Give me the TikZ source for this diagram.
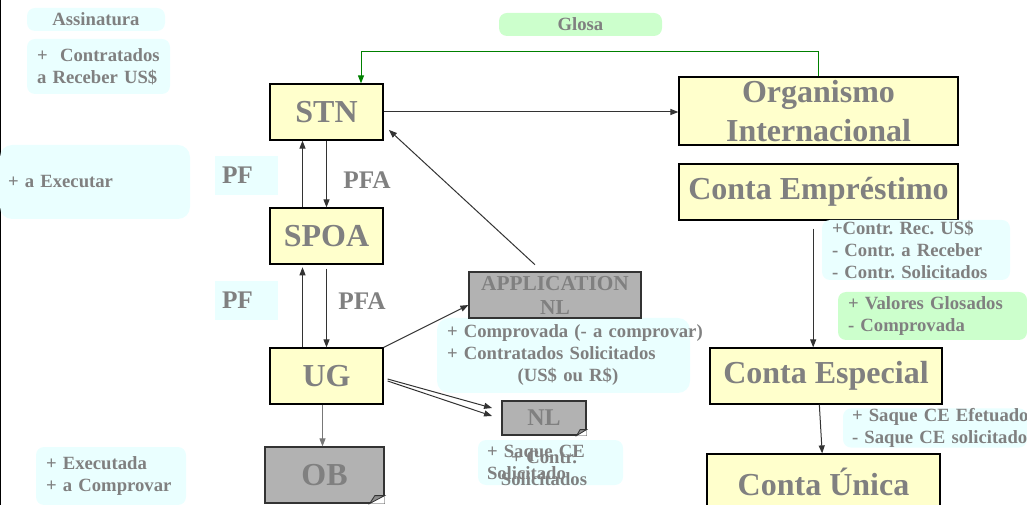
\documentclass[tikz,border=0pt]{standalone}
\usepackage{fontspec}
\setmainfont{Liberation Serif}
\usetikzlibrary{arrows.meta}

\definecolor{boxyellow}{RGB}{255,255,204}
\definecolor{boxgray}{RGB}{178,178,178}
\definecolor{foldgray}{RGB}{140,140,140}
\definecolor{notecyan}{RGB}{234,255,255}
\definecolor{notegreen}{RGB}{204,255,204}
\definecolor{txtgray}{RGB}{128,128,128}
\definecolor{darkline}{RGB}{51,51,51}
\definecolor{linegray}{RGB}{120,120,120}
\definecolor{glosagreen}{RGB}{0,128,0}

\newcommand{\fontbig}{\fontsize{24}{29}\selectfont\bfseries}
\newcommand{\fontmid}{\fontsize{19}{22}\selectfont\bfseries}
\newcommand{\fontapp}{\fontsize{16}{18}\selectfont\bfseries}
\newcommand{\fontsml}{\fontsize{14}{16.5}\selectfont\bfseries\frenchspacing}

% folded corner: node, width, height
\newcommand{\dogear}[3]{%
  \fill[white] ([shift={(-#2,0)}]#1.south east) -- (#1.south east) -- ([shift={(0,-#3)}]#1.south east) -- cycle;
  \filldraw[fill=foldgray,draw=darkline,line width=0.6pt] ([shift={(-#2,0)}]#1.south east) -- ([shift={(-0.65*#2,-#3)}]#1.south east) -- ([shift={(0,-#3)}]#1.south east) -- cycle;
}

\tikzset{
  blk/.style={draw=black,line width=0.9pt,fill=boxyellow,text=txtgray,font=\fontbig,align=center,inner sep=0pt,minimum height=42pt},
  doc/.style={blk,fill=boxgray,draw=darkline},
  note/.style={fill=notecyan,rounded corners=6pt,text=txtgray,font=\fontsml,align=left,inner ysep=0pt},
  conn/.style={->,draw=darkline,line width=0.75pt}
}

\begin{document}
\begin{tikzpicture}[x=0.75pt,y=-0.75pt,>={Triangle[length=6pt,width=4.5pt]}]
\useasboundingbox (0,0) rectangle (1027,505);
\draw[line width=1.5pt] (0,0) -- (0,505);

\node[note,minimum width=103.5pt,minimum height=17.25pt,align=center] (assin) at (96,19.5) {Assinatura};
\node[note,text width=92.25pt,inner xsep=7.5pt,minimum height=41.25pt] (contr) at (98.5,66.5) {+~ Contratados\\a Receber US\$};
\node[note,text width=130.5pt,inner xsep=6pt,minimum height=55.5pt,rounded corners=9pt] (exec) at (95,182) {+ a Executar};
\node[note,rounded corners=0pt,font=\fontmid,text width=36.75pt,inner xsep=5.25pt,minimum height=29.25pt] (pf1) at (246.5,175.5) {PF};
\node[note,rounded corners=0pt,font=\fontmid,text width=36.75pt,inner xsep=5.25pt,minimum height=29.25pt] (pf2) at (246.5,300.5) {PF};
\node[note,fill=notegreen,minimum width=122.25pt,minimum height=17.25pt,align=center] (glosa) at (580.5,24.5) {Glosa};

\node[blk,minimum width=84.75pt] (stn) at (326.5,112) {STN};
\node[blk,minimum width=84.75pt] (spoa) at (326.5,236) {SPOA};
\node[blk,minimum width=84.75pt] (ug) at (326.5,376) {UG};
\node[doc,minimum width=89.25pt] (ob) at (324.5,475) {OB};
\node[text=txtgray,font=\fontmid] (pfa1) at (367,180) {PFA};
\node[text=txtgray,font=\fontmid] (pfa2) at (362,301) {PFA};

\node[blk,minimum width=209.25pt,minimum height=51pt] (org) at (818.5,111) {Organismo\\Internacional};
\node[blk,minimum width=209.25pt] (emp) at (818.5,192) {Conta Empréstimo};
\node[blk,minimum width=174pt] (esp) at (826,376) {Conta Especial};
\node[blk,minimum width=174.75pt] (unica) at (823.5,482) {Conta Única};

\node[note,text width=174.75pt,inner xsep=7.5pt,minimum height=56.25pt,rounded corners=9pt] (apnote) at (563.5,355.5) {\mbox{+ Comprovada (- a comprovar)}\\+ Contratados Solicitados\\\hspace*{53pt}(US\$ ou R\$)};
\node[doc,font=\fontapp,minimum width=129pt,minimum height=34.5pt] (appl) at (555,295) {APPLICATION\\NL};
\node[doc,font=\fontsize{18}{20}\selectfont\bfseries,minimum width=63pt,minimum height=25.5pt] (nl) at (544,418) {NL};
\node[note,text width=95.25pt,inner xsep=6.75pt,minimum height=33.75pt] (nlnote) at (550.5,462.5) {+ Saque CE\\Solicitado};
\node[text=txtgray,font=\fontsml,align=center,inner sep=0pt] (nlnote2) at (544,468.5) {+ Contr.\\Solicitados};
\node[note,text width=97.5pt,inner xsep=7.5pt,minimum height=43.5pt] (execnote) at (111,476) {+ Executada\\+ a Comprovar};

\node[note,text width=126pt,inner xsep=7.5pt,minimum height=45pt] (contrnote) at (916,250) {+Contr. Rec. US\$\\- Contr. a Receber\\- Contr. Solicitados};
\node[note,fill=notegreen,text width=126.75pt,inner xsep=7.5pt,minimum height=36pt] (valnote) at (932.5,316) {+ Valores Glosados\\- Comprovada};
\node[note,text width=124.5pt,inner xsep=6.75pt,minimum height=28.5pt] (saquenote) at (935,428) {\mbox{+ Saque CE Efetuado}\\\mbox{- Saque CE solicitado}};

\dogear{ob}{15}{8}
\dogear{nl}{10}{6}

\draw[conn] (stn.south) -- (spoa.north);
\draw[conn] ([xshift=-18pt]spoa.north) -- ([xshift=-18pt]stn.south);
\draw[conn] ([yshift=-3pt]spoa.south) -- (ug.north);
\draw[conn] ([xshift=-18pt]ug.north) -- ([xshift=-18pt,yshift=-2pt]spoa.south);
\draw[conn,draw=linegray] ([xshift=-3pt]ug.south) -- ([xshift=-3pt]ug.south |- ob.north);
\draw[conn] (stn.east) -- (stn.east -| org.west);
\coordinate (glosaturn) at (361,52);
\draw[conn,draw=glosagreen] (org.north) |- (glosaturn) -- (glosaturn |- stn.north);
\draw[conn] ([xshift=-15pt,yshift=5pt]appl.north) -- ([xshift=4pt,yshift=8pt]stn.south east);
\draw[conn] (ug.north east) -- ([yshift=-7.5pt]appl.west);
\draw[conn] ([xshift=3pt,yshift=-2.25pt]ug.east) -- ([xshift=-7pt,yshift=7.5pt]nl.west);
\draw[conn] ([xshift=3pt,yshift=-3.75pt]ug.east) -- ([xshift=-7pt,yshift=1.5pt]nl.west);
\coordinate (empout) at ([xshift=-4pt,yshift=-6pt]emp.south);
\draw[conn] (empout) -- (empout |- esp.north);
\draw[conn] ([xshift=-5pt]esp.south) -- ([xshift=-1pt]unica.north);
\end{tikzpicture}
\end{document}
